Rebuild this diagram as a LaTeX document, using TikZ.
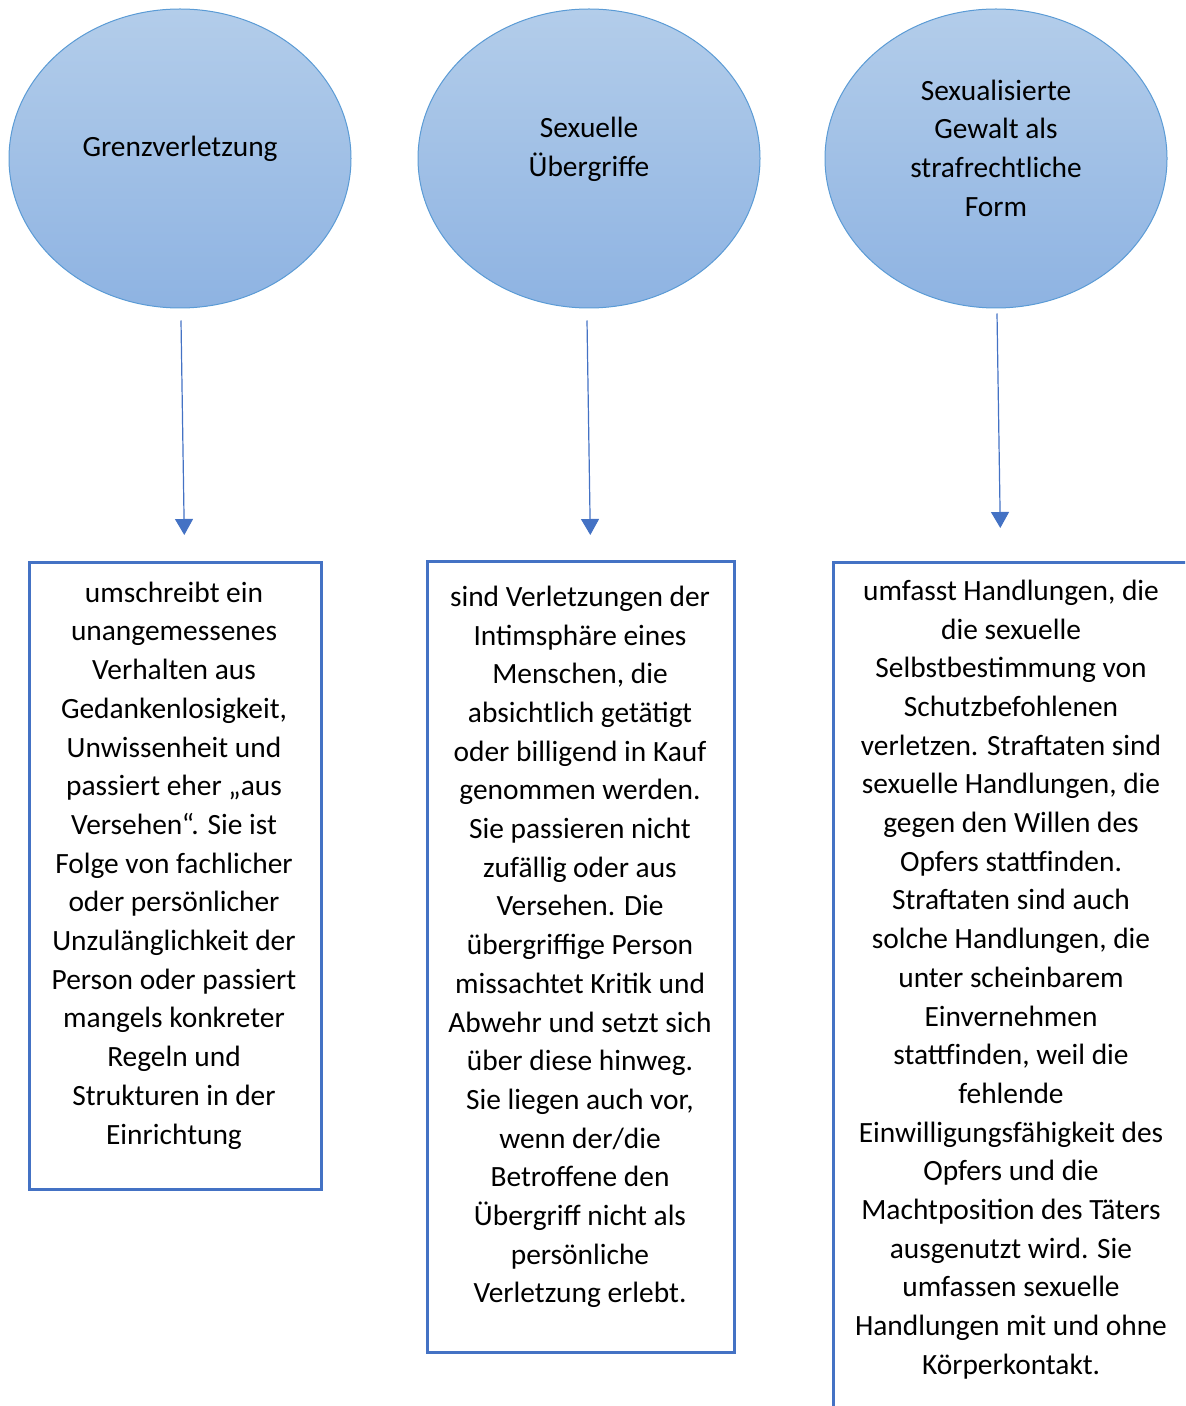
\documentclass[tikz,border=0pt]{standalone}
\usepackage{fontspec}
\setmainfont{Carlito}
\usetikzlibrary{arrows.meta, shapes.geometric}
\definecolor{ellTop}{HTML}{B3CDEA}
\definecolor{ellBot}{HTML}{8EB3E2}
\definecolor{ellLine}{HTML}{5B9BD5}
\definecolor{boxBlue}{HTML}{4472C4}
\tikzset{>={Triangle[width=9pt, length=8pt]},
  kreis/.style={ellipse, draw=ellLine, line width=0.5pt, top color=ellTop,
    bottom color=ellBot, minimum width=171pt, minimum height=149.5pt, inner sep=0pt},
  kasten/.style={draw=boxBlue, line width=1.3pt, anchor=north west, inner sep=0pt},
  textblock/.style={align=center, inner sep=0pt, font=\fontsize{14.7}{19.35}\selectfont},
  pfeil/.style={->, draw=boxBlue, line width=0.6pt}}

\begin{document}
\begin{tikzpicture}[x=0.5pt, y=-0.5pt]

                \useasboundingbox (0, 0) rectangle (1185, 1406);
                \clip (0, 0) rectangle (1185, 1406);

                % die drei Kreise oben
                \node[kreis] (e1) at (180, 158.5) {};
                \node[kreis] (e2) at (589, 158.5) {};
                \node[kreis] (e3) at (996, 158.5) {};
                \node[textblock] (e1t) at (180, 149) {Grenzverletzung};
                \node[textblock] (e2t) at (589, 149.5) {Sexuelle\\ Übergriffe};
                \node[textblock] (e3t) at (996, 148)
                  {Sexualisierte\\ Gewalt als\\ strafrechtliche\\ Form};

                % Kaesten
                \node[kasten, minimum width=146pt, minimum height=313.5pt] (b1) at (28, 561) {};
                \node[kasten, minimum width=153.5pt, minimum height=395.5pt] (b2) at (426, 560) {};
                \node[kasten, minimum width=180pt, minimum height=430.5pt] (b3) at (832, 561) {};

                \node[textblock] (t1) at (174, 865.5)
                  {umschreibt ein\\ unangemessenes\\ Verhalten aus\\ Gedankenlosigkeit,\\
                   Unwissenheit und\\ passiert eher „aus\\ Versehen“. Sie ist\\
                   Folge von fachlicher\\ oder persönlicher\\ Unzulänglichkeit der\\
                   Person oder passiert\\ mangels konkreter\\ Regeln und\\
                   Strukturen in der\\ Einrichtung};
                \node[textblock] (t2) at (580, 947)
                  {sind Verletzungen der\\ Intimsphäre eines\\ Menschen, die\\
                   absichtlich getätigt\\ oder billigend in Kauf\\ genommen werden.\\
                   Sie passieren nicht\\ zufällig oder aus\\ Versehen. Die\\
                   übergriffige Person\\ missachtet Kritik und\\ Abwehr und setzt sich\\
                   über diese hinweg.\\ Sie liegen auch vor,\\ wenn der/die\\
                   Betroffene den\\ Übergriff nicht als\\ persönliche\\ Verletzung erlebt.};
                \node[textblock] (t3) at (1011, 979.5)
                  {umfasst Handlungen, die\\ die sexuelle\\ Selbstbestimmung von\\
                   Schutzbefohlenen\\ verletzen. Straftaten sind\\ sexuelle Handlungen, die\\
                   gegen den Willen des\\ Opfers stattfinden.\\ Straftaten sind auch\\
                   solche Handlungen, die\\ unter scheinbarem\\ Einvernehmen\\
                   stattfinden, weil die\\ fehlende\\ Einwilligungsfähigkeit des\\
                   Opfers und die\\ Machtposition des Täters\\ ausgenutzt wird. Sie\\
                   umfassen sexuelle\\ Handlungen mit und ohne\\ Körperkontakt.};

                % Pfeile
                \coordinate (p1a) at ([shift={(1, 12)}]e1.south);
                \coordinate (p1b) at ([shift={(9, -26)}]b1.north);
                \coordinate (p2a) at ([shift={(-2, 12)}]e2.south);
                \coordinate (p2b) at ([shift={(9.5, -25)}]b2.north);
                \coordinate (p3a) at ([shift={(1, 5)}]e3.south);
                \coordinate (p3b) at ([shift={(-13, -33)}]b3.north);
                \draw[pfeil] (p1a) -- (p1b);
                \draw[pfeil] (p2a) -- (p2b);
                \draw[pfeil] (p3a) -- (p3b);

\end{tikzpicture}
\end{document}
